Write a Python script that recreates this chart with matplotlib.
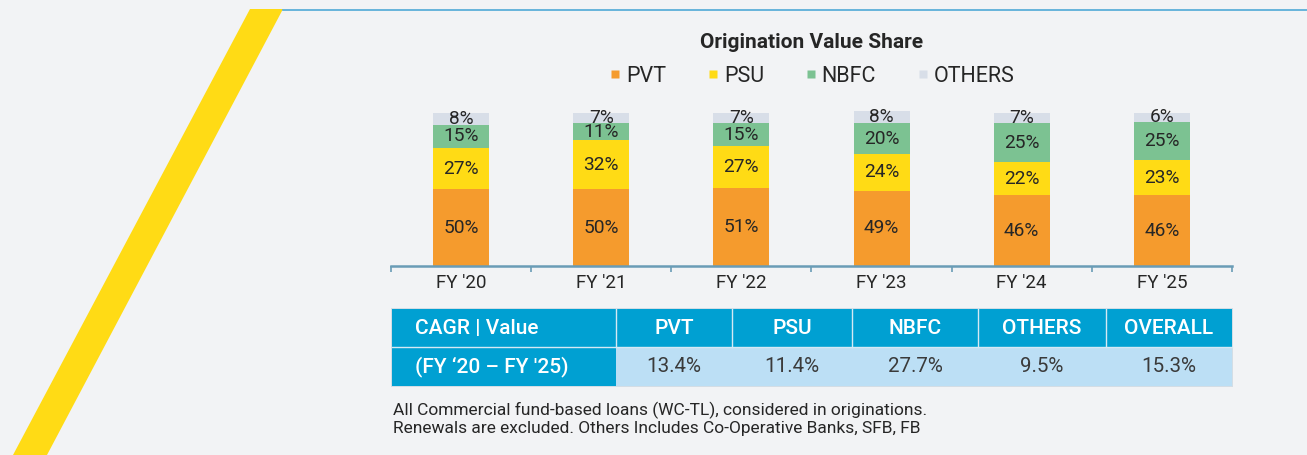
import matplotlib
matplotlib.use("Agg")
import matplotlib.pyplot as plt
from matplotlib.patches import Rectangle, Polygon
from matplotlib.lines import Line2D
import numpy as np

plt.rcParams['font.family'] = ['Roboto', 'DejaVu Sans']

# ---------------- data ----------------
years = ["FY '20", "FY '21", "FY '22", "FY '23", "FY '24", "FY '25"]
series_names = ["PVT", "PSU", "NBFC", "OTHERS"]
pvt = [50, 50, 51, 49, 46, 46]
psu = [27, 32, 27, 24, 22, 23]
nbfc = [15, 11, 15, 20, 25, 25]
others = [8, 7, 7, 8, 7, 6]

table_header = ["CAGR | Value", "PVT", "PSU", "NBFC", "OTHERS", "OVERALL"]
table_rowlabel = "(FY \u201820 \u2013 FY '25)"
cagr_values = ["13.4%", "11.4%", "27.7%", "9.5%", "15.3%"]

title = "Origination Value Share"
footnote = ["All Commercial fund-based loans (WC-TL), considered in originations.",
            "Renewals are excluded. Others Includes Co-Operative Banks, SFB, FB"]

# ---------------- style ----------------
BG = "#f2f3f5"
COLORS = ["#f59b2d", "#ffdb15", "#7cc292", "#d8dee8"]
TXT = "#262626"
AXIS_C = "#6a9cb6"
HDR_BLUE = "#00a0d2"
LIGHT_BLUE = "#bcdff5"

W, H = 1307, 455
fig = plt.figure(figsize=(W / 100, H / 100), dpi=100, facecolor=BG)

# overlay in pixel coordinates for decoration and table
ov = fig.add_axes([0, 0, 1, 1])
ov.set_xlim(0, W)
ov.set_ylim(H, 0)
ov.axis('off')
ov.patch.set_alpha(0)

# yellow diagonal stripe and top blue line
ov.add_patch(Polygon([[250, 9], [283, 9], [47, 455], [13, 455]], closed=True,
                     facecolor="#ffdb15", edgecolor="none", zorder=1))
ov.add_line(Line2D([283, W], [9.5, 9.5], color="#4fa9d6", lw=1.2, zorder=1))

# ---------------- bar chart ----------------
x0, x1 = 391, 1232
ybase, ytop = 266, 100
px_per_pct = 153.3 / 100
ax = fig.add_axes([x0 / W, (H - ybase) / H, (x1 - x0) / W, (ybase - ytop) / H])
ax.patch.set_alpha(0)
ax.set_xlim(-0.5, len(years) - 0.5)
ax.set_ylim(0, (ybase - ytop) / px_per_pct)

xs = np.arange(len(years))
bottom = np.zeros(len(years))
for vals, col in zip([pvt, psu, nbfc, others], COLORS):
    vals = np.array(vals, dtype=float)
    ax.bar(xs, vals, width=0.4, bottom=bottom, color=col, edgecolor='none', zorder=2)
    for xi, v, b in zip(xs, vals, bottom):
        ax.text(xi, b + v / 2, f"{int(v)}%", ha='center', va='center',
                fontsize=13.8, color=TXT, zorder=3)
    bottom += vals

for s in ['top', 'right', 'left']:
    ax.spines[s].set_visible(False)
ax.spines['bottom'].set_color(AXIS_C)
ax.spines['bottom'].set_linewidth(1.8)
ax.set_yticks([])
ax.set_xticks(xs)
ax.set_xticklabels(years, fontsize=13.5, color=TXT)
ax.tick_params(axis='x', which='major', length=0, pad=5.5)
ax.set_xticks(np.arange(-0.5, len(years)), minor=True)
ax.tick_params(axis='x', which='minor', length=4, width=1.2, color=AXIS_C)

# title
ov.text(811.5, 42, title, ha='center', va='center', fontsize=15,
        fontweight='bold', color=TXT, zorder=5)

# legend
handles = [Line2D([], [], marker='s', linestyle='none', markersize=6,
                  markerfacecolor=c, markeredgecolor='none') for c in COLORS]
leg = ov.legend(handles, series_names, loc='center', ncol=4,
                bbox_to_anchor=(812.5 / W, 1 - 76 / H), bbox_transform=fig.transFigure,
                frameon=False, fontsize=15.5, handlelength=0.45, handletextpad=0.28,
                columnspacing=1.95, borderpad=0, borderaxespad=0)
for t in leg.get_texts():
    t.set_color(TXT)

# ---------------- table ----------------
col_edges = [392, 616, 732, 852, 978, 1106, 1232]
row_edges = [309, 347, 386]
# outer border
ov.add_patch(Rectangle((col_edges[0] - 1, row_edges[0] - 1),
                       col_edges[-1] - col_edges[0] + 2, row_edges[-1] - row_edges[0] + 2,
                       facecolor="#d3dde5", edgecolor='none', zorder=2))
# first column (both rows) blue
ov.add_patch(Rectangle((col_edges[0], row_edges[0]), col_edges[1] - col_edges[0],
                       row_edges[2] - row_edges[0], facecolor=HDR_BLUE, edgecolor='none', zorder=3))
# header row
ov.add_patch(Rectangle((col_edges[1], row_edges[0]), col_edges[-1] - col_edges[1],
                       row_edges[1] - row_edges[0], facecolor=HDR_BLUE, edgecolor='none', zorder=3))
# value row
ov.add_patch(Rectangle((col_edges[1], row_edges[1]), col_edges[-1] - col_edges[1],
                       row_edges[2] - row_edges[1], facecolor=LIGHT_BLUE, edgecolor='none', zorder=3))
# divider lines
ov.add_line(Line2D([col_edges[0], col_edges[-1]], [row_edges[1], row_edges[1]],
                   color="#d6e9f4", lw=1.0, zorder=4))
for cx in col_edges[1:-1]:
    ov.add_line(Line2D([cx, cx], [row_edges[0], row_edges[1]], color="#d6e9f4", lw=1.0, zorder=4))

ymid0 = (row_edges[0] + row_edges[1]) / 2
ymid1 = (row_edges[1] + row_edges[2]) / 2
ov.text(415, ymid0, table_header[0], ha='left', va='center', fontsize=15,
        fontweight='medium', color='white', zorder=5)
ov.text(415, ymid1, table_rowlabel, ha='left', va='center', fontsize=15,
        fontweight='medium', color='white', zorder=5)
for i, (hdr, val) in enumerate(zip(table_header[1:], cagr_values)):
    cx = (col_edges[i + 1] + col_edges[i + 2]) / 2
    ov.text(cx, ymid0, hdr, ha='center', va='center', fontsize=15,
            fontweight='medium', color='white', zorder=5)
    ov.text(cx, ymid1, val, ha='center', va='center', fontsize=14.8,
            fontweight='normal', color="#3a3a3a", zorder=5)

# footnote
for i, line in enumerate(footnote):
    ov.text(393, 410 + i * 18, line, ha='left', va='center', fontsize=12.5,
            color=TXT, zorder=5)

fig.savefig("out.png", dpi=100, facecolor=BG)
